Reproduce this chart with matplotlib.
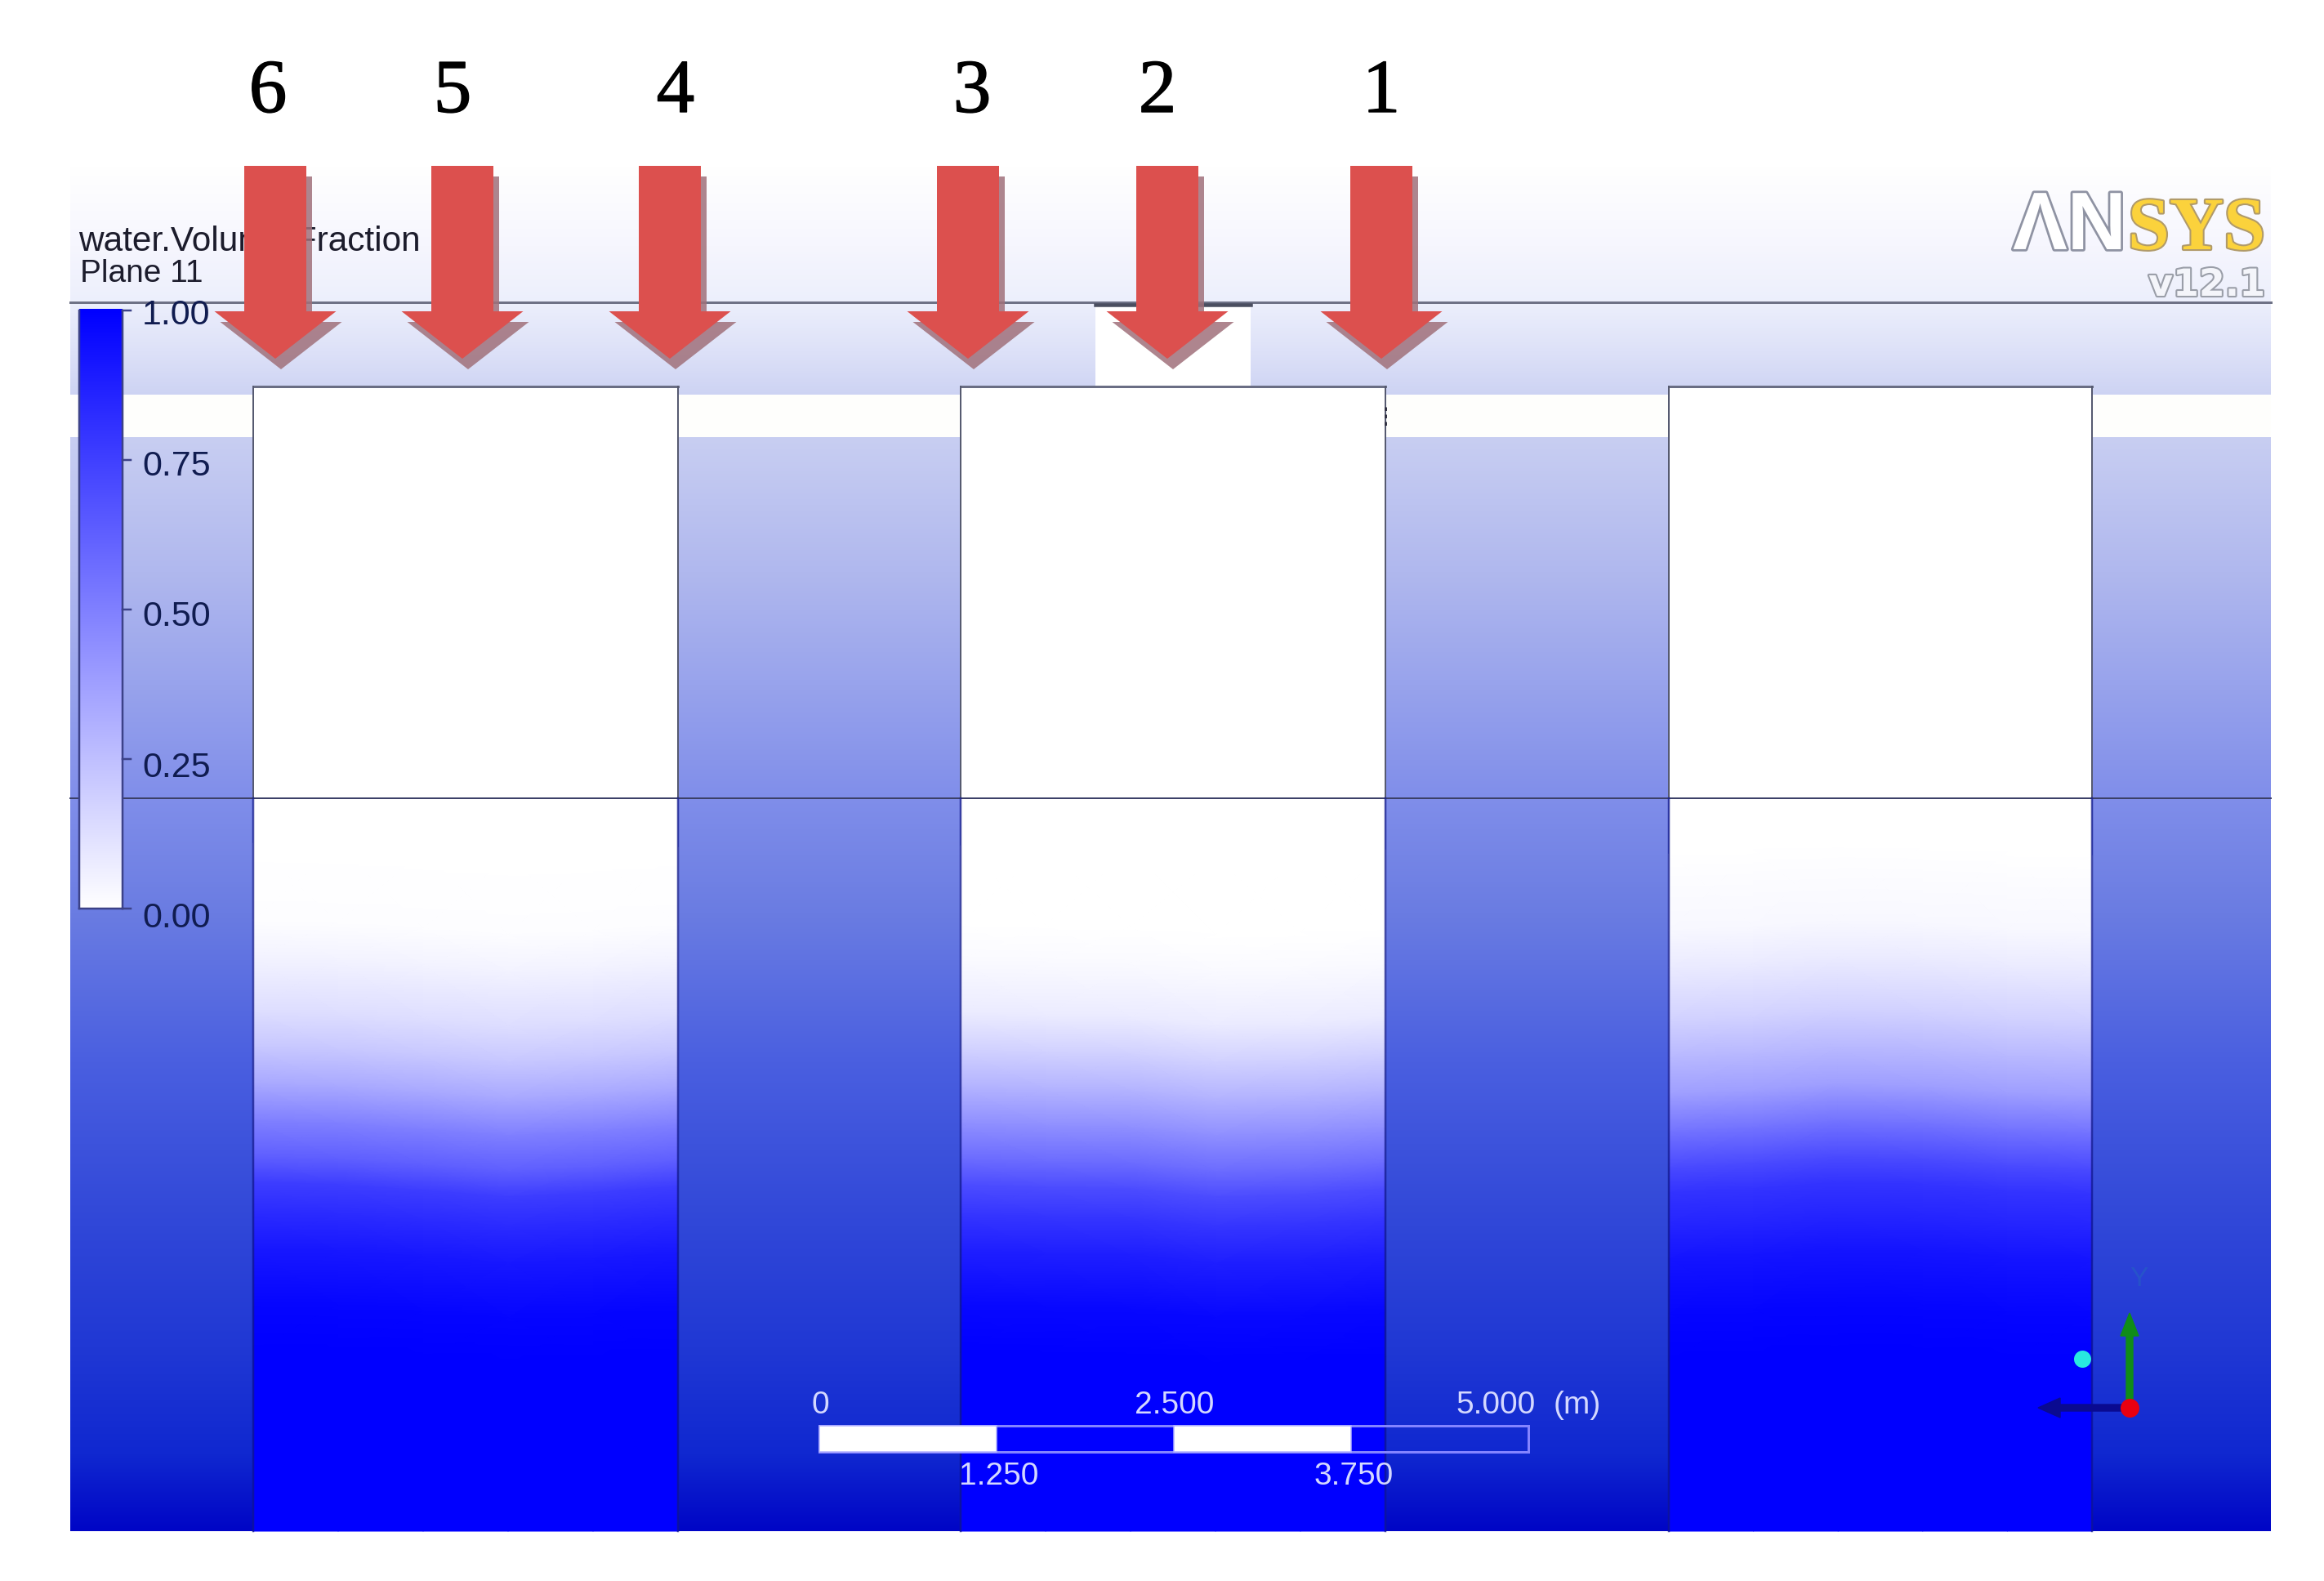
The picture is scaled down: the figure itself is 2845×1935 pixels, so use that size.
import numpy as np
import matplotlib
matplotlib.use("Agg")
import matplotlib.pyplot as plt
import matplotlib.patheffects as pe
from matplotlib.colors import LinearSegmentedColormap, Normalize
from matplotlib.patches import Rectangle

W, H = 2845, 1935
PX = 0.72  # points per pixel at dpi 100

# ---- data ----
panel_left, panel_right, panel_bottom = 86, 2780, 1874
panel_y = [205, 300, 370, 430, 483, 535, 700, 976, 1118, 1300, 1500, 1650, 1780, 1874]
panel_colors = ['#ffffff', '#f6f6fe', '#eceffc', '#dde1f8', '#cdd3f3', '#c8cef2', '#b0b8ee',
                '#808eea', '#6a7ce2', '#4a5fe0', '#3047d8', '#2038d4', '#1028d0', '#0005c6']
band_top, band_bottom = 483, 535
ref_line_y, free_line_y, tank_top = 370, 977, 473

tank_edges = [(310, 830), (1176, 1696), (2043, 2561)]
depth_y = [1040, 1134, 1179, 1245, 1290, 1335, 1380, 1424, 1455, 1491, 1536, 1603, 1660, 1874]
tank_fraction = [
    [0.0, 0.01, 0.05, 0.13, 0.22, 0.34, 0.50, 0.63, 0.76, 0.83, 0.91, 0.98, 1.0, 1.0],
    [0.0, 0.0, 0.02, 0.08, 0.18, 0.30, 0.44, 0.58, 0.70, 0.79, 0.88, 0.97, 1.0, 1.0],
    [0.0, 0.03, 0.08, 0.18, 0.28, 0.38, 0.55, 0.71, 0.80, 0.85, 0.92, 0.98, 1.0, 1.0],
]
wave_pos = [0.0, 0.2, 0.4, 0.6, 0.8, 1.0]
tank_wave = [
    [-8, -5, 2, 10, 5, -3],
    [-5, -2, 0, 10, 7, 0],
    [5, 0, -8, -5, 3, 7],
]

arrow_x = [337, 566, 820, 1185, 1429, 1691]
arrow_labels = ['6', '5', '4', '3', '2', '1']
label_x = [328, 554, 827, 1190, 1417, 1691]
arrow_top, arrow_neck, arrow_tip = 203, 381, 439
arrow_half_shaft, arrow_half_head = 38, 74.5
shadow_dx, shadow_dy = 7, 13

patch_x, patch_y = (1341, 1531), (373, 473)

cbar_x = (97, 150)
cbar_y0, cbar_y1 = 1112, 380
cbar_ticks = [1.00, 0.75, 0.50, 0.25, 0.00]
cbar_label_top, cbar_label_bottom = 397, 1135

scale_ticks = [0, 1.25, 2.5, 3.75, 5.0]
scale_top_labels = ['0', '2.500', '5.000']
scale_bot_labels = ['1.250', '3.750']
scale_x = (1003, 1871)
scale_y = (1745, 1777)

# ---- figure ----
fig = plt.figure(figsize=(W / 100, H / 100), dpi=100)
ax = fig.add_axes([0, 0, 1, 1])
ax.set_axis_off()
plt.rcParams['font.family'] = ['Liberation Sans', 'DejaVu Sans']

vf_cmap = LinearSegmentedColormap.from_list('vf', ['#ffffff', '#0000ff'], N=512)

# background panel
py = np.array(panel_y, float)
pos = (py - py[0]) / (py[-1] - py[0])
panel_cmap = LinearSegmentedColormap.from_list('panel', list(zip(pos, panel_colors)), N=2048)
ax.imshow(np.linspace(0, 1, 1700)[:, None], extent=(panel_left, panel_right, py[-1], py[0]),
          cmap=panel_cmap, aspect='auto', zorder=1, interpolation='bilinear')
ax.add_patch(Rectangle((panel_left, band_top), panel_right - panel_left, band_bottom - band_top,
                       fc='#fefefc', ec='none', zorder=2))

# tanks
for (x0, x1), frac, wave in zip(tank_edges, tank_fraction, tank_wave):
    ax.add_patch(Rectangle((x0, tank_top), x1 - x0, 1070 - tank_top, fc='white', ec='none', zorder=3))
    xs = x0 + np.array(wave_pos) * (x1 - x0)
    X, Y = np.meshgrid(xs, np.array(depth_y, float))
    Y = Y + np.array(wave, float)[None, :] * np.where(Y < 1800, 1, 0)
    C = np.repeat(np.array(frac)[:, None], len(xs), axis=1)
    ax.pcolormesh(X, Y, C, shading='gouraud', cmap=vf_cmap, norm=Normalize(0, 1), zorder=3.5)

# white patch behind arrow 2
ax.add_patch(Rectangle((patch_x[0], patch_y[0]), patch_x[1] - patch_x[0], patch_y[1] - patch_y[0],
                       fc='white', ec='none', zorder=3))

# lines
ax.plot([panel_left, panel_right], [ref_line_y, ref_line_y], color='#6e7286', lw=3 * PX, zorder=4)
ax.plot(patch_x, [patch_y[0], patch_y[0]], color='#4a4e60', lw=4.5 * PX, zorder=4)
ax.plot([panel_left, panel_right], [free_line_y, free_line_y], color='#3c4068', lw=2 * PX, zorder=4)
for x0, x1 in tank_edges:
    ax.plot([x0, x1], [tank_top, tank_top], color='#6a6e84', lw=3 * PX, zorder=4)
    for x in (x0, x1):
        ax.plot([x, x], [tank_top, free_line_y], color='#565a70', lw=2 * PX, zorder=4)
        ax.plot([x, x], [free_line_y, panel_bottom], color='#10188a', lw=2.5 * PX, alpha=0.75, zorder=4)
ax.plot([1696, 1696], [498, 522], color='#333344', lw=3 * PX, ls=(0, (1.5, 1.5)), zorder=4)

# colour bar
ax.imshow(np.linspace(1, 0, 732)[:, None], extent=(cbar_x[0], cbar_x[1], cbar_y0, cbar_y1 - 2),
          cmap=vf_cmap, vmin=0, vmax=1, aspect='auto', zorder=5, interpolation='bilinear')
for x in cbar_x:
    ax.plot([x, x], [cbar_y1, cbar_y0], color='#3c4288', lw=2.5 * PX, zorder=6)
ax.plot(cbar_x, [cbar_y0, cbar_y0], color='#3c4288', lw=2.5 * PX, zorder=6)
for v in cbar_ticks:
    y = cbar_y0 + (cbar_y1 - cbar_y0) * v
    ax.plot([cbar_x[1], cbar_x[1] + 10], [y, y], color='#3c4288', lw=2.5 * PX, zorder=6)
    base = cbar_label_bottom + (cbar_label_top - cbar_label_bottom) * v
    ax.text(174, base, f'{v:.2f}', ha='left', va='baseline', fontsize=31, color='#101c50', zorder=6)

ax.text(96, 307, 'water.Volume Fraction', ha='left', va='baseline', fontsize=30.5, color='#1c1c2c', zorder=6)
ax.text(98, 345, 'Plane 11', ha='left', va='baseline', fontsize=28, color='#1c1c2c', zorder=6)

# scale bar
sx = scale_x[0] + np.array(scale_ticks) * (scale_x[1] - scale_x[0]) / scale_ticks[-1]
ax.add_patch(Rectangle((sx[0], scale_y[0]), sx[-1] - sx[0], scale_y[1] - scale_y[0],
                       fc='none', ec='#8484ff', lw=3 * PX, zorder=6))
for a, b in zip(sx[0::2], sx[1::2]):
    ax.add_patch(Rectangle((a, scale_y[0]), b - a, scale_y[1] - scale_y[0], fc='white', ec='#b0b0ff',
                           lw=1.5 * PX, zorder=7))
txt_c = '#d4d8ff'
for x, s in zip([sx[0], sx[2], sx[4] - 41], scale_top_labels):
    ax.text(x + 1, 1730, s, ha='center', va='baseline', fontsize=28, color=txt_c, zorder=7)
ax.text(1931, 1730, '(m)', ha='center', va='baseline', fontsize=28, color=txt_c, zorder=7)
for x, s in zip([sx[1], sx[3]], scale_bot_labels):
    ax.text(x + 3, 1817, s, ha='center', va='baseline', fontsize=28, color=txt_c, zorder=7)

# triad
ax.text(2618, 1565, 'Y', ha='center', va='center', fontsize=24, color='#2080b0', alpha=0.3, zorder=7)
ax.fill([2603, 2611, 2611, 2618, 2607, 2596, 2603], [1715, 1715, 1635, 1635, 1607, 1635, 1635],
        color='#108c18', zorder=7)
ax.fill([2597, 2522, 2522, 2495, 2522, 2522, 2597], [1719, 1719, 1711, 1723, 1735, 1727, 1727],
        color='#0a0a90', zorder=7)
ax.plot([2607], [1723], 'o', ms=23 * PX, color='#e80010', mec='none', zorder=8)
ax.plot([2549], [1663], 'o', ms=21 * PX, color='#28e8e0', mec='none', zorder=8)

# ANSYS logo
outline = [pe.withStroke(linewidth=4, foreground='#8f93a3')]
ax.text(2464, 305, '\u039bN', ha='left', va='baseline', fontsize=72, color='white', weight='bold',
        path_effects=outline, zorder=6, family=['Liberation Sans'])
gold = [pe.withStroke(linewidth=3, foreground='#b09a6a')]
ax.text(2773, 305, 'SYS', ha='right', va='baseline', fontsize=66, color='#fbd23c', weight='bold',
        path_effects=gold, zorder=6, family=['Liberation Serif'])
ax.text(2773, 362, 'v12.1', ha='right', va='baseline', fontsize=33, color='#f4f5fa', weight='bold',
        path_effects=[pe.withStroke(linewidth=3, foreground='#9a9ea8')], zorder=6, family=['DejaVu Sans'])

# arrows
for cx, lab, lx in zip(arrow_x, arrow_labels, label_x):
    xs = np.array([-arrow_half_shaft, arrow_half_shaft, arrow_half_shaft, arrow_half_head, 0,
                   -arrow_half_head, -arrow_half_shaft]) + cx
    ys = np.array([arrow_top, arrow_top, arrow_neck, arrow_neck, arrow_tip, arrow_neck, arrow_neck])
    ax.fill(xs + shadow_dx, ys + shadow_dy, color='#a0707a', alpha=0.85, ec='none', zorder=9)
    ax.fill(xs, ys, color='#dc504e', ec='none', zorder=10)
    ax.text(lx, 137, lab, ha='center', va='baseline', fontsize=67, color='black',
            family=['Liberation Serif'], zorder=10,
            path_effects=[pe.withStroke(linewidth=1.0, foreground='black')])

ax.set_xlim(0, W)
ax.set_ylim(H, 0)
fig.savefig('out.png', dpi=100, facecolor='white')
